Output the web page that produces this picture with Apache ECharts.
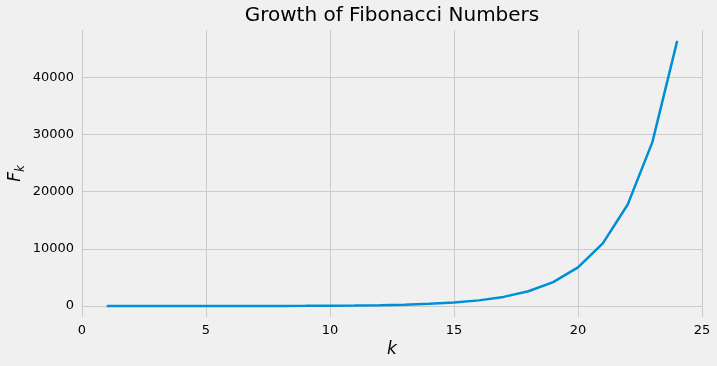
<!DOCTYPE html>
<html>
<head>
<meta charset="utf-8">
<script src="https://cdn.jsdelivr.net/npm/echarts@6/dist/echarts.min.js"></script>
<style>
html,body{margin:0;padding:0;background:#f0f0f0;}
#chart{width:717px;height:366px;}
</style>
</head>
<body>
<div id="chart"></div>
<script>
const kValues = [1,2,3,4,5,6,7,8,9,10,11,12,13,14,15,16,17,18,19,20,21,22,23,24];
const fibValues = [1,1,2,3,5,8,13,21,34,55,89,144,233,377,610,987,1597,2584,4181,6765,10946,17711,28657,46368];
const xTicks = [0,5,10,15,20,25];
const yTicks = [0,10000,20000,30000,40000];
const titleText = 'Growth of Fibonacci Numbers';

const FONT = 'DejaVu Sans';
const chart = echarts.init(document.getElementById('chart'), null, {renderer:'canvas'});
chart.setOption({
  backgroundColor:'#f0f0f0',
  animation:false,
  title:{
    text:titleText,
    left:392, top:6, textAlign:'center', padding:0,
    textStyle:{fontFamily:FONT, fontSize:20, fontWeight:'normal', color:'#000'}
  },
  grid:{left:82, right:15, top:30, bottom:49, containLabel:false, outerBoundsMode:'none'},
  xAxis:{
    type:'value', min:0, max:25, interval:5,
    axisLine:{show:false}, axisTick:{show:false},
    axisLabel:{margin:7, fontFamily:FONT, fontSize:13, color:'#000', customValues:xTicks},
    splitLine:{show:true, lineStyle:{color:'#cbcbcb', width:1}},
    name:'k', nameLocation:'middle', nameGap:24, nameMoveOverlap:false,
    nameTextStyle:{fontFamily:FONT, fontStyle:'italic', fontSize:17, color:'#000'}
  },
  yAxis:{
    type:'value', min:-1920, max:48270,
    axisLine:{show:false},
    axisTick:{show:false, customValues:yTicks},
    axisLabel:{margin:8, fontFamily:FONT, fontSize:13, color:'#000', customValues:yTicks,
      formatter:v=>String(v)},
    splitLine:{show:true, lineStyle:{color:'#cbcbcb', width:1}},
    name:'{f|F}{s|k}', nameLocation:'middle', nameGap:55, nameRotate:90, nameMoveOverlap:false,
    nameTextStyle:{
      rich:{
        f:{fontFamily:FONT, fontStyle:'italic', fontSize:17, color:'#000', lineHeight:22, verticalAlign:'middle'},
        s:{fontFamily:FONT, fontStyle:'italic', fontSize:12, color:'#000', lineHeight:22, verticalAlign:'bottom'}
      }
    }
  },
  series:[{
    type:'line',
    data:kValues.map((k,i)=>[k,fibValues[i]]),
    showSymbol:false, symbol:'none',
    lineStyle:{color:'#008fd5', width:2.5},
    itemStyle:{color:'#008fd5'}
  }]
});
</script>
</body>
</html>
